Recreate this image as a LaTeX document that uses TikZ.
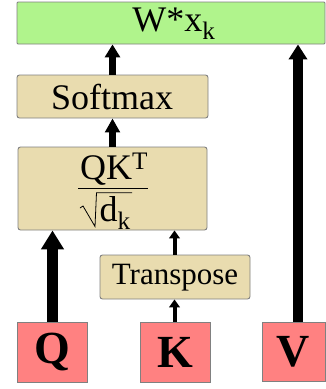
\documentclass[tikz,border=0pt]{standalone}
\usepackage{fontspec}
\setmainfont{Liberation Serif}
\usetikzlibrary{arrows.meta}
\definecolor{boxgreen}{HTML}{B0F48C}
\definecolor{boxtan}{HTML}{E9DCAF}
\definecolor{boxred}{HTML}{FF8181}
\definecolor{boxedge}{HTML}{808080}
\tikzset{
  base/.style={draw=boxedge, line width=0.9pt, inner sep=0pt, anchor=center},
  greenbox/.style={base, fill=boxgreen, rounded corners=1pt},
  tanbox/.style={base, fill=boxtan, rounded corners=2.5pt},
  redbox/.style={base, fill=boxred},
  bigtext/.style={font=\fontsize{36}{40}\selectfont, inner sep=0pt},
  midtext/.style={font=\fontsize{31}{34}\selectfont},
  lettertext/.style={font=\fontsize{46}{50}\selectfont\bfseries},
  arr/.style={draw=black, line width=#1},
  fracline/.style={draw=black, line width=1.3pt},
  rootline/.style={draw=black, line width=0.8pt, line join=miter},
}
\begin{document}
\begin{tikzpicture}[x=1pt,y=-1pt]
\useasboundingbox (0,0) rectangle (326,389);
\node[greenbox, minimum width=308pt, minimum height=42pt] (W) at (171,23) {};
\node[bigtext, anchor=base] (Wt) at (174,31) {W*x\textsubscript{k}};
\node[tanbox, minimum width=191pt, minimum height=43pt] (S) at (112.5,96.5) {};
\node[bigtext, anchor=base] (St) at (112,109) {Softmax};
\node[tanbox, minimum width=189pt, minimum height=83pt] (QK) at (112.5,188.5) {};
\node[bigtext, anchor=base west] (num) at (80,179) {QK\textsuperscript{T}};
\draw[fracline] (78,188.3) -- (148,188.3);
\draw[rootline] (80,208) -- (83,206) -- (95,226.5) -- (96.5,192.7) -- (132,192.7);
\node[bigtext, anchor=base west] (den) at (99.5,221) {d\textsubscript{k}};
\node[tanbox, minimum width=150pt, minimum height=44pt] (T) at (175,277) {};
\node[midtext, inner sep=0pt, anchor=base] (Tt) at (175,284) {Transpose};
\node[redbox, minimum width=70pt, minimum height=60pt, lettertext] (Q) at (52,352) {Q};
\node[redbox, minimum width=70pt, minimum height=60pt, lettertext] (K) at (175,352) {K};
\node[redbox, minimum width=63pt, minimum height=59pt, lettertext] (V) at (293.5,351.5) {V};
\coordinate (vx) at (298,0);
\coordinate (qx) at (52.5,0);
\coordinate (kx) at (174.5,0);
\draw[arr=7pt, -{Triangle[width=15pt,length=13pt]}] (S.north) -- (W.south -| S.north);
\draw[arr=7pt, -{Triangle[width=14.5pt,length=14pt]}] (QK.north) -- (S.south);
\draw[arr=11.5pt, -{Triangle[width=22pt,length=19pt]}] (qx |- Q.north) -- (qx |- QK.south);
\draw[arr=4pt, -{Triangle[width=10.7pt,length=8pt]}] (kx |- T.north) -- (kx |- QK.south);
\draw[arr=4pt, -{Triangle[width=10.7pt,length=8pt]}] (kx |- K.north) -- (kx |- T.south);
\draw[arr=10.5pt, -{Triangle[width=18pt,length=15pt]}] (vx |- V.north) -- (vx |- W.south);
\end{tikzpicture}
\end{document}
